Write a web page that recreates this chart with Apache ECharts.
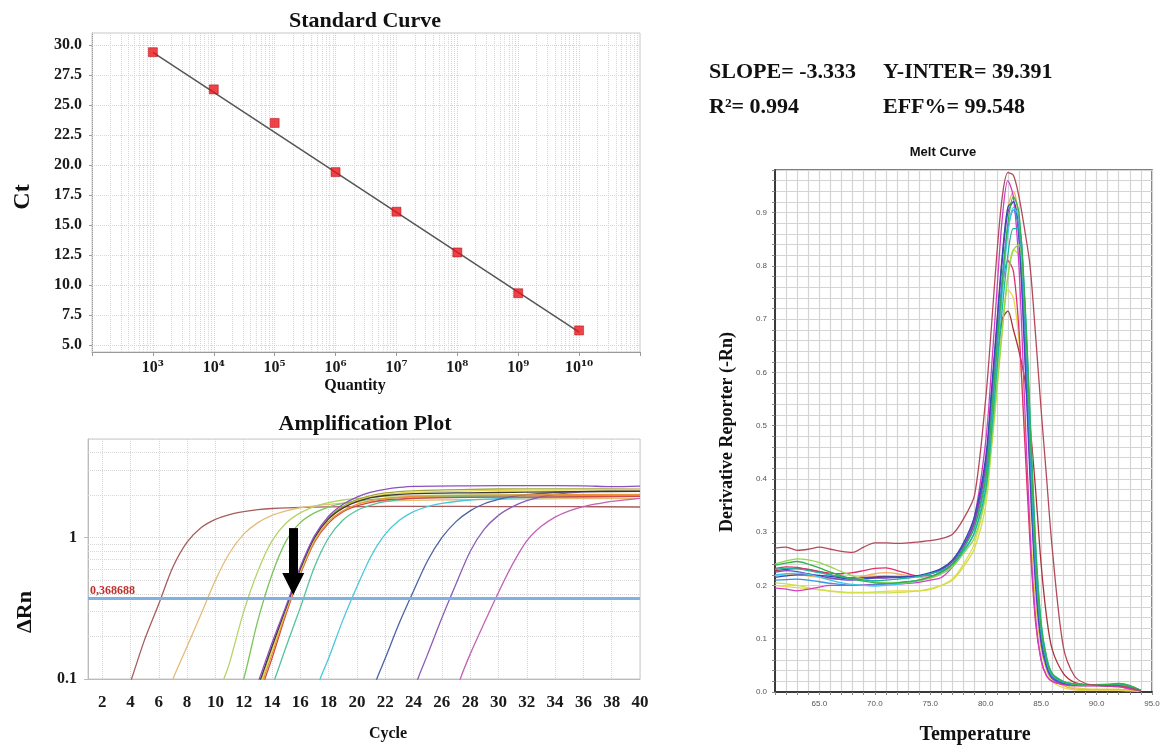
<!DOCTYPE html>
<html><head><meta charset="utf-8">
<script src="https://cdn.jsdelivr.net/npm/echarts@6/dist/echarts.min.js"></script>
<style>html,body{margin:0;padding:0;background:#fff}#c{width:1166px;height:749px}</style>
</head><body><div id="c"></div>
<script>
// ---------- Standard curve ----------
const quantities = [1e3, 1e4, 1e5, 1e6, 1e7, 1e8, 1e9, 1e10];
const quantityLabels = ['10³', '10⁴', '10⁵', '10⁶', '10⁷', '10⁸', '10⁹', '10¹⁰'];
const ctValues = [29.4, 26.3, 23.5, 19.4, 16.1, 12.7, 9.3, 6.2];
const fitQuantities = [1e3, 1e10];
const fitCt = [29.39, 6.06];
const ctTicks = [5, 7.5, 10, 12.5, 15, 17.5, 20, 22.5, 25, 27.5, 30];
const slopeText = '-3.333';
const yInterText = '39.391';
const r2Text = '0.994';
const effText = '99.548';

// ---------- Amplification plot ----------
const cycleTicks = [2,4,6,8,10,12,14,16,18,20,22,24,26,28,30,32,34,36,38,40];
const dRnTicks = [0.1, 1];
const dRnTickLabels = ['0.1', '1'];
const thresholdValue = 0.368688;
const thresholdLabel = '0,368688';
const arrowCycle = 15.5;
const arrowFrom = 1.17;
const arrowTo = 0.47;
const ampBrown = [[3,0.05],[4,0.095],[5,0.19],[6,0.34],[7,0.62],[8,0.93],[9,1.18],[10,1.35],[11,1.46],[12,1.53],[13,1.58],[14,1.61],[16,1.64],[20,1.66],[25,1.67],[30,1.66],[35,1.66],[40,1.65]];
const ampTan = [[6,0.055],[7,0.1],[8,0.17],[9,0.29],[10,0.5],[11,0.78],[12,1.06],[13,1.28],[14,1.44],[15,1.55],[16,1.63],[18,1.72],[20,1.78],[24,1.84],[30,1.87],[35,1.89],[40,1.9]];
const ampLightGreen = [[9.5,0.05],[10.6,0.1],[11,0.13],[12,0.3],[13,0.58],[14,0.95],[15,1.27],[16,1.5],[17,1.66],[18,1.77],[19,1.85],[20,1.9],[22,1.96],[26,2.0],[32,2.02],[40,2.03]];
const ampGreen = [[11,0.05],[12,0.1],[13,0.26],[14,0.55],[15,0.95],[16,1.28],[17,1.5],[18,1.65],[19,1.75],[20,1.82],[22,1.9],[26,1.96],[32,1.98],[40,2.0]];
const ampPurple = [[12,0.05],[13.1,0.1],[14,0.18],[15,0.33],[16,0.62],[17,1.03],[18,1.42],[19,1.72],[20,1.94],[21,2.1],[22,2.2],[23,2.27],[24,2.31],[28,2.33],[32,2.34],[36,2.33],[38,2.3],[40,2.32]];
const ampBlack = [[12.2,0.05],[13.2,0.1],[14,0.17],[15,0.32],[16,0.6],[17,1.0],[18,1.36],[19,1.62],[20,1.8],[21,1.92],[22,1.99],[24,2.05],[28,2.08],[32,2.1],[36,2.12],[40,2.13]];
const ampYellow = [[12.3,0.05],[13.3,0.1],[14,0.16],[15,0.31],[16,0.58],[17,0.98],[18,1.35],[19,1.62],[20,1.82],[21,1.95],[22,2.03],[24,2.1],[28,2.15],[32,2.17],[36,2.18],[40,2.18]];
const ampOrange = [[12.4,0.05],[13.4,0.1],[14,0.15],[15,0.3],[16,0.56],[17,0.95],[18,1.3],[19,1.55],[20,1.72],[21,1.83],[22,1.9],[24,1.96],[28,1.99],[32,2.01],[36,2.02],[40,2.02]];
const ampRed = [[12.5,0.05],[13.5,0.1],[14,0.14],[15,0.29],[16,0.55],[17,0.93],[18,1.27],[19,1.52],[20,1.68],[21,1.78],[22,1.85],[24,1.9],[28,1.93],[32,1.94],[36,1.95],[40,1.96]];
const ampOlive = [[12.3,0.05],[13.3,0.1],[14,0.165],[15,0.315],[16,0.59],[17,0.99],[18,1.38],[19,1.66],[20,1.86],[21,1.99],[22,2.08],[24,2.15],[28,2.2],[32,2.22],[36,2.22],[40,2.21]];
const ampTeal = [[13.1,0.05],[14.2,0.1],[15,0.17],[16,0.32],[17,0.62],[18,1.0],[19,1.33],[20,1.56],[21,1.7],[22,1.8],[24,1.9],[28,1.96],[32,1.99],[36,2.0],[40,2.01]];
const ampCyan = [[16.4,0.05],[17.4,0.1],[18,0.14],[19,0.26],[20,0.45],[21,0.74],[22,1.06],[23,1.33],[24,1.53],[25,1.66],[26,1.75],[28,1.85],[32,1.92],[36,1.95],[40,1.96]];
const ampDarkBlue = [[20.4,0.05],[21.4,0.1],[22,0.14],[23,0.25],[24,0.42],[25,0.69],[26,1.0],[27,1.3],[28,1.55],[29,1.74],[30,1.87],[31,1.96],[32,2.02],[34,2.09],[36,2.13],[40,2.15]];
const ampViolet = [[23.3,0.05],[24.3,0.1],[25,0.15],[26,0.27],[27,0.47],[28,0.8],[29,1.15],[30,1.44],[31,1.66],[32,1.83],[33,1.95],[34,2.03],[36,2.11],[38,2.14],[40,2.15]];
const ampMagenta = [[26.3,0.05],[27.3,0.1],[28,0.15],[29,0.25],[30,0.41],[31,0.65],[32,0.95],[33,1.2],[34,1.4],[35,1.55],[36,1.66],[37,1.74],[38,1.81],[40,1.9]];

// ---------- Melt curve ----------
const meltTemps = [61,62,63,64,65,66,67,68,69,70,71,72,73,74,75,76,77,78,79,80,80.5,81,81.5,82,82.5,83,83.5,84,84.5,85,85.5,86,87,88,89,90,91,92,93,94];
const meltXTicks = [65, 70, 75, 80, 85, 90, 95];
const meltYTicks = [0, 0.1, 0.2, 0.3, 0.4, 0.5, 0.6, 0.7, 0.8, 0.9];
const meltOutlier = [0.270,0.272,0.266,0.268,0.272,0.268,0.264,0.262,0.272,0.280,0.280,0.279,0.280,0.282,0.284,0.288,0.296,0.325,0.37,0.55,0.68,0.82,0.93,0.975,0.97,0.93,0.87,0.80,0.67,0.53,0.40,0.27,0.085,0.03,0.016,0.013,0.012,0.012,0.008,0.002];
const meltMagenta = [0.195,0.193,0.19,0.193,0.197,0.2,0.2,0.2,0.201,0.202,0.203,0.203,0.204,0.206,0.21,0.215,0.235,0.27,0.33,0.47,0.6,0.75,0.89,0.96,0.93,0.8,0.55,0.3,0.14,0.06,0.03,0.02,0.015,0.012,0.012,0.012,0.011,0.01,0.006,0.002];
const meltPurple = [0.225,0.228,0.226,0.222,0.218,0.214,0.211,0.21,0.212,0.214,0.214,0.215,0.216,0.218,0.222,0.23,0.245,0.275,0.32,0.43,0.55,0.68,0.81,0.9,0.92,0.85,0.64,0.4,0.2,0.09,0.045,0.025,0.016,0.013,0.012,0.012,0.012,0.012,0.008,0.002];
const meltBlue = [0.215,0.218,0.22,0.22,0.219,0.217,0.214,0.212,0.213,0.215,0.216,0.216,0.217,0.219,0.224,0.232,0.248,0.28,0.33,0.44,0.56,0.69,0.82,0.91,0.92,0.86,0.66,0.42,0.21,0.1,0.05,0.028,0.017,0.014,0.013,0.013,0.013,0.013,0.009,0.002];
const meltLightBlue = [0.21,0.211,0.212,0.21,0.207,0.204,0.202,0.2,0.2,0.201,0.203,0.205,0.207,0.21,0.216,0.225,0.24,0.27,0.31,0.41,0.52,0.65,0.78,0.87,0.905,0.87,0.7,0.45,0.23,0.11,0.055,0.03,0.018,0.014,0.013,0.013,0.013,0.013,0.009,0.002];
const meltCyan = [0.22,0.222,0.223,0.221,0.216,0.21,0.205,0.202,0.2,0.199,0.2,0.202,0.205,0.209,0.215,0.222,0.235,0.262,0.3,0.39,0.49,0.62,0.75,0.86,0.91,0.89,0.74,0.5,0.26,0.12,0.06,0.032,0.019,0.015,0.014,0.014,0.014,0.014,0.01,0.003];
const meltTeal = [0.23,0.232,0.231,0.228,0.224,0.22,0.216,0.212,0.21,0.209,0.21,0.212,0.214,0.217,0.222,0.228,0.24,0.265,0.3,0.38,0.48,0.6,0.72,0.82,0.87,0.87,0.75,0.52,0.28,0.13,0.065,0.035,0.02,0.015,0.014,0.014,0.014,0.015,0.011,0.003];
const meltGreen = [0.238,0.242,0.245,0.24,0.233,0.225,0.218,0.212,0.208,0.205,0.204,0.205,0.207,0.21,0.216,0.225,0.24,0.27,0.31,0.4,0.51,0.64,0.77,0.88,0.93,0.9,0.74,0.5,0.26,0.12,0.06,0.033,0.019,0.015,0.014,0.014,0.014,0.016,0.012,0.003];
const meltLightGreen = [0.24,0.246,0.25,0.248,0.243,0.235,0.226,0.218,0.212,0.207,0.205,0.205,0.206,0.209,0.214,0.222,0.235,0.26,0.29,0.37,0.46,0.57,0.68,0.78,0.83,0.84,0.74,0.52,0.28,0.13,0.065,0.035,0.02,0.015,0.014,0.014,0.015,0.016,0.012,0.003];
const meltYellowGreen = [0.205,0.203,0.2,0.196,0.192,0.189,0.187,0.186,0.186,0.186,0.186,0.187,0.188,0.19,0.194,0.2,0.21,0.235,0.27,0.35,0.45,0.56,0.68,0.78,0.83,0.82,0.7,0.48,0.26,0.12,0.06,0.03,0.015,0.008,0.006,0.005,0.005,0.005,0.004,0.002];
const meltOrange = [0.218,0.22,0.22,0.218,0.215,0.212,0.212,0.214,0.218,0.222,0.224,0.222,0.218,0.215,0.214,0.222,0.238,0.27,0.32,0.43,0.55,0.69,0.82,0.91,0.94,0.88,0.68,0.43,0.22,0.1,0.048,0.026,0.012,0.006,0.005,0.005,0.005,0.005,0.004,0.002];
const meltYellow = [0.2,0.198,0.196,0.194,0.192,0.19,0.188,0.187,0.187,0.188,0.189,0.19,0.19,0.19,0.192,0.2,0.212,0.24,0.28,0.37,0.47,0.58,0.69,0.755,0.74,0.66,0.5,0.32,0.17,0.08,0.04,0.02,0.008,0.004,0.003,0.003,0.003,0.003,0.002,0.001];
const meltRedMagenta = [0.232,0.235,0.234,0.23,0.226,0.223,0.222,0.224,0.228,0.232,0.233,0.228,0.222,0.218,0.218,0.225,0.24,0.27,0.32,0.43,0.54,0.66,0.76,0.81,0.79,0.68,0.48,0.28,0.13,0.06,0.03,0.02,0.014,0.012,0.012,0.012,0.011,0.01,0.006,0.002];
const meltDarkRed = [0.228,0.23,0.232,0.23,0.226,0.22,0.216,0.214,0.215,0.216,0.217,0.216,0.216,0.218,0.222,0.23,0.245,0.275,0.32,0.42,0.52,0.62,0.7,0.715,0.68,0.64,0.59,0.5,0.38,0.24,0.14,0.08,0.035,0.018,0.014,0.013,0.013,0.013,0.009,0.002];

// ---------- build chart ----------
const SERIF = '"Liberation Serif", "DejaVu Serif", serif';
const SANS = '"Liberation Sans", Arial, sans-serif';
const chart = echarts.init(document.getElementById('c'), null, { renderer: 'canvas' });

const dottedGrid = { type: 'dotted', color: '#d6d6d6', width: 1 };

// log-scale grid line positions for the standard curve and amplification plot
const stdGridLines = [];
for (let n = 2; n <= 10; n++) for (let k = 1; k <= 9; k++) stdGridLines.push({ xAxis: k * Math.pow(10, n) });
ctTicks.forEach(v => stdGridLines.push({ yAxis: v }));
const ampGridLines = [];
[0.1, 1].forEach(d => { for (let k = 2; k <= 9; k++) { const v = k * d; if (v < 4.99) ampGridLines.push({ yAxis: v }); } });

const ampCurves = [
  { d: ampBrown, c: '#a85c5c' }, { d: ampTan, c: '#e3bd78' }, { d: ampLightGreen, c: '#b5d36a' },
  { d: ampGreen, c: '#7cc45c' }, { d: ampTeal, c: '#52c49a' }, { d: ampCyan, c: '#48c8dc' },
  { d: ampDarkBlue, c: '#4c62a6' }, { d: ampViolet, c: '#8a5db8' }, { d: ampMagenta, c: '#c462b4' },
  { d: ampRed, c: '#d04848' }, { d: ampOrange, c: '#e8953a' }, { d: ampOlive, c: '#a3a53c' },
  { d: ampYellow, c: '#e6d84a' }, { d: ampBlack, c: '#3a3a3a' }, { d: ampPurple, c: '#8c4fc4' }
];
const meltCurves = [
  { d: meltYellow, c: '#e9d84a' }, { d: meltYellowGreen, c: '#cde04a' }, { d: meltOrange, c: '#f2b060' },
  { d: meltDarkRed, c: '#a8343a' }, { d: meltRedMagenta, c: '#e0306e' }, { d: meltMagenta, c: '#d23cc8' },
  { d: meltPurple, c: '#7b42cc' }, { d: meltBlue, c: '#2d4db5' }, { d: meltLightBlue, c: '#3d8fe0' },
  { d: meltCyan, c: '#3cc8ea' }, { d: meltLightGreen, c: '#8fd84c' }, { d: meltTeal, c: '#1fb5a0' },
  { d: meltGreen, c: '#2fb24a' }, { d: meltOutlier, c: '#b34a5a' }
];

const series = [];
series.push({
  type: 'line', xAxisIndex: 0, yAxisIndex: 0, z: 3,
  data: fitQuantities.map((q, i) => [q, fitCt[i]]),
  symbol: 'none', lineStyle: { color: '#555', width: 1.5 },
  markLine: { silent: true, z: 1, symbol: 'none', label: { show: false }, lineStyle: dottedGrid, animation: false, data: stdGridLines }
});
series.push({
  type: 'scatter', xAxisIndex: 0, yAxisIndex: 0, z: 4,
  data: quantities.map((q, i) => [q, ctValues[i]]),
  symbol: 'rect', symbolSize: 9,
  itemStyle: { color: '#e8141c', borderColor: '#b00000', borderWidth: 0.6 }
});
ampCurves.forEach((cv, i) => {
  const s = {
    type: 'line', xAxisIndex: 1, yAxisIndex: 1, z: 3, clip: true,
    data: cv.d, smooth: 0.3, symbol: 'none',
    lineStyle: { color: cv.c, width: 1.3 }
  };
  if (i === 0) s.markLine = { silent: true, z: 1, symbol: 'none', label: { show: false }, lineStyle: dottedGrid, animation: false, data: ampGridLines };
  if (i === 1) s.markLine = {
    silent: true, z: 5, symbol: 'none', animation: false,
    lineStyle: { color: '#7fb2e2', width: 3, type: 'solid' },
    label: { show: true, position: 'insideStartTop', formatter: thresholdLabel, color: '#c0302a', fontFamily: SERIF, fontWeight: 'bold', fontSize: 12, distance: [2, 2] },
    data: [{ yAxis: thresholdValue }]
  };
  if (i === 2) s.markLine = {
    silent: true, z: 6, symbol: ['none', 'triangle'], symbolSize: 22, animation: false,
    lineStyle: { color: '#000', width: 9, type: 'solid' },
    itemStyle: { color: '#000' },
    label: { show: false },
    data: [[{ coord: [arrowCycle, arrowFrom] }, { coord: [arrowCycle, arrowTo] }]]
  };
  series.push(s);
});
meltCurves.forEach(cv => {
  series.push({
    type: 'line', xAxisIndex: 2, yAxisIndex: 2, z: 3,
    data: meltTemps.map((t, i) => [t, cv.d[i]]),
    smooth: 0.3, symbol: 'none', lineStyle: { color: cv.c, width: 1.3 }
  });
});

const serifLabel = (size) => ({ fontFamily: SERIF, fontWeight: 'bold', fontSize: size, color: '#1a1a1a' });
function txt(x, y, text, font, extra) {
  return Object.assign({
    type: 'text', x: x, y: y, silent: true,
    style: Object.assign({ text: text, fill: '#111', align: 'center', verticalAlign: 'middle' }, font)
  }, extra || {});
}

const option = {
  animation: false,
  backgroundColor: '#ffffff',
  grid: [
    { left: 92, top: 33, width: 548, height: 319, show: true, borderColor: '#c8c8c8', borderWidth: 1, backgroundColor: '#fff' },
    { left: 88, top: 439, width: 552, height: 240, show: true, borderColor: '#c8c8c8', borderWidth: 1, backgroundColor: '#fff' },
    { left: 775, top: 170, width: 377, height: 522, show: true, borderColor: '#555', borderWidth: 1.5, backgroundColor: '#fff' }
  ],
  xAxis: [
    {
      type: 'log', logBase: 10, gridIndex: 0, min: 100, max: 1e11,
      axisLine: { show: true, lineStyle: { color: '#9a9a9a' } },
      axisTick: { show: true, length: 4, lineStyle: { color: '#9a9a9a' } },
      splitLine: { show: false },
      axisLabel: Object.assign(serifLabel(16), {
        margin: 8,
        rich: { s: { fontFamily: '"DejaVu Serif", serif', fontWeight: 'bold', fontSize: 14, color: '#1a1a1a', padding: [0, 0, 2, 0] } },
        formatter: v => {
          const idx = quantities.findIndex(q => Math.abs(Math.log10(q) - Math.log10(v)) < 1e-6);
          if (idx < 0) return '';
          const lab = quantityLabels[idx];
          return lab.slice(0, 2) + '{s|' + lab.slice(2) + '}';
        }
      })
    },
    {
      type: 'value', gridIndex: 1, min: 1, max: 40,
      axisLine: { show: true, lineStyle: { color: '#bbbbbb' } },
      axisTick: { show: false, customValues: cycleTicks },
      splitLine: { show: true, lineStyle: dottedGrid },
      axisLabel: Object.assign(serifLabel(17), { margin: 15, customValues: cycleTicks })
    },
    {
      type: 'value', gridIndex: 2, min: 61, max: 95, interval: 1,
      axisLine: { show: true, lineStyle: { color: '#3a3a3a', width: 2 } },
      axisTick: { show: true, length: 3, lineStyle: { color: '#888' } },
      splitLine: { show: true, lineStyle: { color: '#d4d4d4', width: 1.2 } },
      axisLabel: { customValues: meltXTicks, formatter: v => v.toFixed(1), fontFamily: SANS, fontSize: 8, color: '#555', margin: 8 }
    }
  ],
  yAxis: [
    {
      type: 'value', gridIndex: 0, min: 4.4, max: 31.0,
      axisLine: { show: true, lineStyle: { color: '#9a9a9a' } },
      axisTick: { show: true, length: 3, customValues: ctTicks, lineStyle: { color: '#9a9a9a' } },
      splitLine: { show: false },
      axisLabel: Object.assign(serifLabel(16), { margin: 10, customValues: ctTicks, formatter: v => v.toFixed(1) })
    },
    {
      type: 'log', logBase: 10, gridIndex: 1, min: 0.1, max: 5,
      axisLine: { show: true, lineStyle: { color: '#bbbbbb' } },
      axisTick: { show: true, length: 4, lineStyle: { color: '#bbbbbb' } },
      splitLine: { show: true, lineStyle: dottedGrid },
      axisLabel: Object.assign(serifLabel(16), {
        margin: 11, showMaxLabel: false,
        formatter: v => { const idx = dRnTicks.findIndex(t => Math.abs(Math.log10(t) - Math.log10(v)) < 1e-6); return idx >= 0 ? dRnTickLabels[idx] : ''; }
      })
    },
    {
      type: 'value', gridIndex: 2, min: 0, max: 0.98, interval: 0.02,
      axisLine: { show: true, lineStyle: { color: '#3a3a3a', width: 2 } },
      axisTick: { show: true, length: 3, lineStyle: { color: '#888' } },
      splitLine: { show: true, lineStyle: { color: '#d4d4d4', width: 1.2 } },
      axisLabel: { customValues: meltYTicks, formatter: v => v.toFixed(1), fontFamily: SANS, fontSize: 8, color: '#555', margin: 8 }
    }
  ],
  series: series,
  graphic: [
    txt(365, 21, 'Standard Curve', { fontFamily: SERIF, fontWeight: 'bold', fontSize: 22 }),
    txt(23, 197, 'Ct', { fontFamily: SERIF, fontWeight: 'bold', fontSize: 24 }, { rotation: Math.PI / 2 }),
    txt(355, 386, 'Quantity', { fontFamily: SERIF, fontWeight: 'bold', fontSize: 16 }),
    txt(365, 424, 'Amplification Plot', { fontFamily: SERIF, fontWeight: 'bold', fontSize: 22 }),
    txt(25, 612, 'ΔRn', { fontFamily: SERIF, fontWeight: 'bold', fontSize: 22 }, { rotation: Math.PI / 2 }),
    txt(388, 734, 'Cycle', { fontFamily: SERIF, fontWeight: 'bold', fontSize: 16 }),
    txt(943, 152, 'Melt Curve', { fontFamily: SANS, fontWeight: 'bold', fontSize: 13 }),
    txt(727, 432, 'Derivative Reporter (-Rn)', { fontFamily: SERIF, fontWeight: 'bold', fontSize: 18 }, { rotation: Math.PI / 2 }),
    txt(975, 735, 'Temperature', { fontFamily: SERIF, fontWeight: 'bold', fontSize: 20 }),
    txt(709, 72, 'SLOPE= ' + slopeText, { fontFamily: SERIF, fontWeight: 'bold', fontSize: 22, align: 'left' }),
    txt(883, 72, 'Y-INTER= ' + yInterText, { fontFamily: SERIF, fontWeight: 'bold', fontSize: 22, align: 'left' }),
    txt(709, 107, 'R²= ' + r2Text, { fontFamily: SERIF, fontWeight: 'bold', fontSize: 22, align: 'left' }),
    txt(883, 107, 'EFF%= ' + effText, { fontFamily: SERIF, fontWeight: 'bold', fontSize: 22, align: 'left' })
  ]
};
chart.setOption(option);
</script>
</body></html>
